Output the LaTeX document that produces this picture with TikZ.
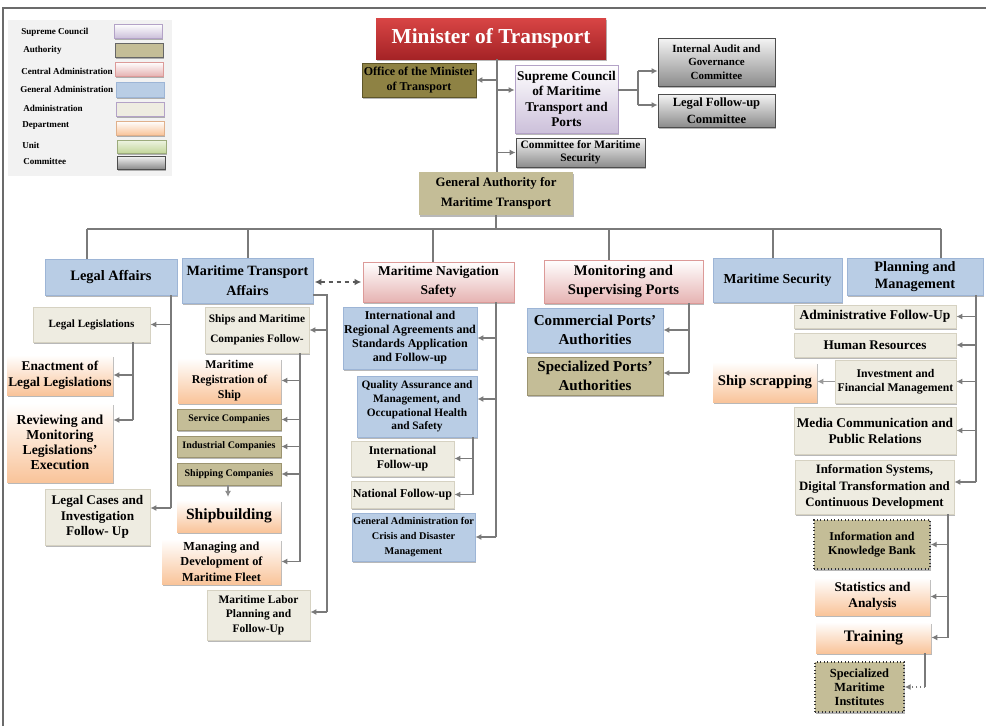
\documentclass[tikz,border=0pt]{standalone}
\usepackage{fontspec}
\setmainfont{Liberation Serif}
\usetikzlibrary{arrows.meta,shadows}
\definecolor{cBlue}{HTML}{B9CDE5}
\definecolor{cBlueD}{HTML}{9DB5D6}
\definecolor{cKhaki}{HTML}{C4BD97}
\definecolor{cKhakiD}{HTML}{9C9470}
\definecolor{cCream}{HTML}{EEECE1}
\definecolor{cCreamD}{HTML}{D6D2C2}
\definecolor{cPeach}{HTML}{F9C49A}
\definecolor{cPink}{HTML}{E6B3B2}
\definecolor{cPinkD}{HTML}{DC9A98}
\definecolor{cLav}{HTML}{CCC0DA}
\definecolor{cLavD}{HTML}{B3A2C7}
\definecolor{cGrayT}{HTML}{F4F4F4}
\definecolor{cGrayB}{HTML}{8C8C8C}
\definecolor{cGrayD}{HTML}{4D4D4D}
\definecolor{cRedT}{HTML}{D84545}
\definecolor{cRedB}{HTML}{A52326}
\definecolor{cOlive}{HTML}{8E8244}
\definecolor{cOliveD}{HTML}{5E5629}
\definecolor{cGreenT}{HTML}{EEF4E2}
\definecolor{cGreenB}{HTML}{C3D69B}
\definecolor{cLine}{HTML}{7A7A7A}
\definecolor{cFrame}{HTML}{6B6B6B}
\definecolor{cLegBg}{HTML}{F2F2F2}

\newcommand\fs[2]{\fontsize{#1}{#2}\selectfont\bfseries}
\newcommand\bx[7]{%
  \pgfmathsetmacro\bxw{(#5-#3)*0.75}%
  \pgfmathsetmacro\bxh{(#6-#4)*0.75}%
  \pgfmathsetmacro\bxx{(#3+#5)/2}%
  \pgfmathsetmacro\bxy{(#4+#6)/2}%
  \node[#2, minimum width=\bxw pt, minimum height=\bxh pt] (#1) at (\bxx,\bxy) {#7};}

\tikzset{
  bb/.style={rectangle, inner sep=0pt, align=center, line width=0.6pt,
    drop shadow={shadow xshift=0.7pt, shadow yshift=-1.5pt, fill=black, opacity=0.28}},
  sBlue/.style={bb, fill=cBlue, draw=cBlueD},
  sKhaki/.style={bb, fill=cKhaki, draw=cKhakiD},
  sCream/.style={bb, fill=cCream, draw=cCreamD},
  sPeach/.style={bb, top color=white, bottom color=cPeach, draw=none},
  sPink/.style={bb, top color=white, bottom color=cPink, draw=cPinkD},
  sLav/.style={bb, top color=white, bottom color=cLav, draw=cLavD},
  sGray/.style={bb, top color=cGrayT, bottom color=cGrayB, draw=cGrayD},
  sRed/.style={bb, top color=cRedT, bottom color=cRedB, draw=none, text=white},
  sOlive/.style={bb, fill=cOlive, draw=cOliveD},
  sGreen/.style={bb, top color=cGreenT, bottom color=cGreenB, draw=cGreenB!80!black},
  sDot/.style={draw=black!80, dotted, line width=1.1pt},
  ln/.style={draw=cLine, line width=0.9pt},
  ar/.style={ln, -{Latex[length=4.5pt,width=4.5pt]}},
  dar/.style={draw=black!65, line width=2pt, dashed, {Latex[length=5pt,width=5pt]}-{Latex[length=5pt,width=5pt]}, shorten <=1pt, shorten >=1pt},
  lgt/.style={font=\fs{6.8}{8}, anchor=west, inner sep=0pt},
}

\begin{document}
\begin{tikzpicture}[x=0.75pt,y=-0.75pt]
\useasboundingbox (0,0) rectangle (986,726);
\fill[white] (0,0) rectangle (986,726);
\draw[cFrame, line width=2pt] (3,726) -- (3,8) -- (986,8);

% legend
\fill[cLegBg] (8,20) rectangle (172,176);
\node[lgt] (lt1) at (21,32) {Supreme Council};
\node[lgt] (lt2) at (23,50) {Authority};
\node[lgt] (lt3) at (21,71) {Central Administration};
\node[lgt] (lt4) at (20,89) {General Administration};
\node[lgt] (lt5) at (23,108) {Administration};
\node[lgt] (lt6) at (22,125) {Department};
\node[lgt] (lt7) at (22,145) {Unit};
\node[lgt] (lt8) at (23,161) {Committee};
\bx{lg1}{sLav}{114}{24}{162}{38}{}
\bx{lg2}{sKhaki,draw=black!60}{115}{43}{163}{57}{}
\bx{lg3}{sPink}{115}{62}{163}{76}{}
\bx{lg4}{sBlue}{116}{82}{164}{97}{}
\bx{lg5}{sCream,draw=cLavD}{116}{102}{164}{116}{}
\bx{lg6}{sPeach,draw=cPeach!90!black}{116}{121}{164}{135}{}
\bx{lg7}{sGreen}{117}{140}{166}{153}{}
\bx{lg8}{sGray}{117}{156}{165}{169}{}

% top
\bx{min}{sRed,font=\fs{16}{18}}{376}{18}{606}{59}{Minister of Transport}
\bx{off}{sOlive,font=\fs{9}{11}}{362}{63}{476}{97}{Office of the Minister\\of Transport}
\bx{sc}{sLav,font=\fs{10}{11.5}}{515}{65}{618}{133}{Supreme Council\\of Maritime\\Transport and\\Ports}
\bx{cms}{sGray,font=\fs{8.5}{10}}{516}{138}{645}{167}{Committee for Maritime\\Security}
\bx{ia}{sGray,font=\fs{8.2}{10}}{658}{38}{775}{86}{Internal Audit and\\Governance\\Committee}
\bx{lf}{sGray,font=\fs{9.4}{12.5}}{658}{94}{775}{127}{Legal Follow-up\\Committee}
\bx{ga}{sKhaki,draw=none,font=\fs{9.6}{15}}{419}{172}{573}{215}{General Authority for\\Maritime Transport}

% level 1
\bx{la}{sBlue,font=\fs{10.8}{14}}{45}{259}{177}{295}{Legal Affairs}
\bx{mta}{sBlue,font=\fs{10.6}{15}}{182}{258}{313}{303}{Maritime Transport\\Affairs}
\bx{mns}{sPink,font=\fs{10.1}{14}}{363}{262}{514}{302}{Maritime Navigation\\Safety}
\bx{msp}{sPink,font=\fs{11}{14}}{544}{260}{703}{303}{Monitoring and\\Supervising Ports}
\bx{ms}{sBlue,font=\fs{10.3}{13}}{713}{258}{842}{302}{Maritime Security}
\bx{pm}{sBlue,font=\fs{10.7}{12.5}}{847}{258}{983}{295}{Planning and\\Management}

% legal affairs
\bx{ll}{sCream,font=\fs{8.3}{10}}{33}{307}{150}{342}{Legal Legislations}
\bx{en}{sPeach,font=\fs{10}{12}}{7}{355}{113}{395}{Enactment of\\Legal Legislations}
\bx{rv}{sPeach,font=\fs{10.3}{11.3}}{7}{403}{113}{482}{Reviewing and\\Monitoring\\Legislations’\\Execution}
\bx{lc}{sCream,font=\fs{9.9}{11.6}}{45}{489}{150}{545}{Legal Cases and\\Investigation\\Follow- Up}

% maritime transport affairs
\bx{smc}{sCream,font=\fs{8.5}{15}}{205}{307}{309}{353}{Ships and Maritime\\Companies Follow-}
\bx{mrs}{sPeach,font=\fs{8.9}{11}}{178}{358}{281}{403}{Maritime\\Registration of\\Ship}
\bx{svc}{sKhaki,font=\fs{7.5}{9}}{177}{409}{281}{430}{Service Companies}
\bx{ind}{sKhaki,font=\fs{7.5}{9}}{177}{436}{281}{457}{Industrial Companies}
\bx{shp}{sKhaki,font=\fs{7.5}{9}}{177}{463}{281}{485}{Shipping Companies}
\bx{sb}{sPeach,font=\fs{11.7}{14}}{177}{500}{281}{532}{Shipbuilding}
\bx{mdf}{sPeach,font=\fs{9.2}{11.5}}{162}{539}{281}{584}{Managing and\\Development of\\Maritime Fleet}
\bx{mlp}{sCream,font=\fs{8.6}{11}}{207}{590}{310}{640}{Maritime Labor\\Planning and\\Follow-Up}

% navigation safety
\bx{ira}{sBlue,font=\fs{9}{10.5}}{343}{307}{477}{369}{International and\\Regional Agreements and\\Standards Application\\and Follow-up}
\bx{qa}{sBlue,font=\fs{8.5}{10.3}}{357}{376}{477}{437}{Quality Assurance and\\Management, and\\Occupational Health\\and Safety}
\bx{ifu}{sCream,font=\fs{8.9}{11}}{351}{441}{454}{476}{International\\Follow-up}
\bx{nfu}{sCream,font=\fs{9}{11}}{351}{481}{454}{508}{National Follow-up}
\bx{gac}{sBlue,font=\fs{7.7}{11}}{352}{513}{475}{561}{General Administration for\\Crisis and Disaster\\Management}

% ports
\bx{cpa}{sBlue,font=\fs{11.3}{14}}{527}{308}{663}{352}{Commercial Ports’\\Authorities}
\bx{spa}{sKhaki,font=\fs{11.3}{14}}{527}{357}{663}{395}{Specialized Ports’\\Authorities}

% planning
\bx{afu}{sCream,font=\fs{10.1}{12}}{794}{305}{956}{328}{Administrative Follow-Up}
\bx{hr}{sCream,font=\fs{9.9}{12}}{794}{333}{956}{357}{Human Resources}
\bx{ifm}{sCream,font=\fs{8.8}{10.5}}{835}{360}{956}{403}{Investment and\\Financial Management}
\bx{scr}{sPeach,font=\fs{11}{13}}{713}{362}{817}{402}{Ship scrapping}
\bx{mcp}{sCream,font=\fs{10}{12}}{794}{407}{956}{454}{Media Communication and\\Public Relations}
\bx{isd}{sCream,font=\fs{9.6}{12.5}}{795}{460}{954}{514}{Information Systems,\\Digital Transformation and\\Continuous Development}
\bx{ikb}{sKhaki,sDot,font=\fs{9}{10.5}}{814}{520}{930}{569}{Information and\\Knowledge Bank}
\bx{sta}{sPeach,font=\fs{10}{12}}{815}{578}{930}{615}{Statistics and\\Analysis}
\bx{trn}{sPeach,font=\fs{12}{14}}{816}{622}{931}{653}{Training}
\bx{smi}{sKhaki,sDot,font=\fs{9.3}{10.5}}{815}{662}{904}{712}{Specialized\\Maritime\\Institutes}

% ---- connectors ----
\coordinate (tT) at (497,59);
\coordinate (tB) at (497,172);
\coordinate (aSc) at (497,90);
\draw[ln] (tT) -- (tB);
\draw[ar] (tT |- off.east) -- (off.east);
\draw[ar] (aSc) -- (aSc -| sc.west);
\draw[ar] (tT |- cms.west) -- (cms.west);
\coordinate (scJ) at (638,90);
\coordinate (scJ1) at (638,71);
\coordinate (scJ2) at (638,105);
\draw[ln] (aSc -| sc.east) -- (scJ);
\draw[ln] (scJ1) -- (scJ2);
\draw[ar] (scJ1) -- (scJ1 -| ia.west);
\draw[ar] (scJ2) -- (scJ2 -| lf.west);

\coordinate (bus) at (496,229);
\coordinate (d1) at (87,229);
\coordinate (d2) at (248,229);
\coordinate (d3) at (433,229);
\coordinate (d4) at (609,229);
\coordinate (d5) at (773,229);
\coordinate (d6) at (941,229);
\draw[ln] (ga.south) -- (ga.south |- bus);
\draw[ln] (d1) -- (d6);
\draw[ln] (d1) -- (d1 |- la.north);
\draw[ln] (d2) -- (d2 |- mta.north);
\draw[ln] (d3) -- (d3 |- mns.north);
\draw[ln] (d4) -- (d4 |- msp.north);
\draw[ln] (d5) -- (d5 |- ms.north);
\draw[ln] (d6) -- (d6 |- pm.north);

\coordinate (dsh) at (338,282);
\draw[dar] (dsh -| mta.east) -- (dsh -| mns.west);

% legal affairs
\coordinate (laS) at (171,295);
\coordinate (laE) at (171,508);
\draw[ln] (laS) -- (laE);
\draw[ar] (laS |- ll.east) -- (ll.east);
\draw[ar] (laE) -- (laE -| lc.east);
\coordinate (llS) at (133,342);
\coordinate (llE) at (133,420);
\draw[ln] (llS) -- (llE);
\draw[ar] (llS |- en.east) -- (en.east);
\draw[ar] (llE) -- (llE -| rv.east);

% maritime transport affairs
\coordinate (mtaA) at (313,295);
\coordinate (mtaB) at (327,295);
\coordinate (mtaE) at (327,612);
\draw[ln] (mtaA) -- (mtaB) -- (mtaE);
\draw[ar] (mtaB |- smc.east) -- (smc.east);
\draw[ar] (mtaE) -- (mtaE -| mlp.east);
\coordinate (smS) at (300,353);
\draw[ln] (smS) -- (smS |- mdf.east);
\draw[ar] (smS |- mrs.east) -- (mrs.east);
\draw[ar] (smS |- svc.east) -- (svc.east);
\draw[ar] (smS |- ind.east) -- (ind.east);
\draw[ar] (smS |- shp.east) -- (shp.east);
\draw[ar] (smS |- mdf.east) -- (mdf.east);
\coordinate (sbA) at (228,485);
\draw[ar, draw=black!45] (sbA) -- ([yshift=2pt]sbA |- sb.north);

% navigation
\coordinate (mnS) at (496,302);
\draw[ln] (mnS) -- (mnS |- gac.east);
\draw[ar] (mnS |- ira.east) -- (ira.east);
\coordinate (aQa) at (496,399);
\draw[ar] (aQa) -- (aQa -| qa.east);
\draw[ar] (mnS |- gac.east) -- (gac.east);
\coordinate (qaS) at (473,437);
\draw[ln] (qaS) -- (qaS |- nfu.east);
\draw[ar] (qaS |- ifu.east) -- (ifu.east);
\draw[ar] (qaS |- nfu.east) -- (nfu.east);

% ports
\coordinate (mpS) at (689,303);
\coordinate (mpE) at (689,373);
\draw[ln] (mpS) -- (mpE);
\draw[ar] (mpS |- cpa.east) -- (cpa.east);
\draw[ar] (mpE) -- (mpE -| spa.east);

% planning
\coordinate (pmS) at (976,295);
\coordinate (pmE) at (976,482);
\draw[ln] (pmS) -- (pmE);
\draw[ar] (pmS |- afu.east) -- (afu.east);
\draw[ar] (pmS |- hr.east) -- (hr.east);
\draw[ar] (pmS |- ifm.east) -- (ifm.east);
\draw[ar] (pmS |- mcp.east) -- (mcp.east);
\draw[ar] (pmE) -- (pmE -| isd.east);
\draw[ar, draw=black!40] (ifm.west) -- (ifm.west -| scr.east);
\coordinate (isS) at (948,514);
\draw[ln] (isS) -- (isS |- trn.east);
\draw[ar] (isS |- ikb.east) -- (ikb.east);
\draw[ar] (isS |- sta.east) -- (sta.east);
\draw[ar] (isS |- trn.east) -- (trn.east);
\coordinate (trS) at (925,653);
\coordinate (trE) at (925,687);
\draw[ln] (trS) -- (trE);
\draw[ar, dotted, line width=1.4pt] (trE) -- (trE -| smi.east);
\end{tikzpicture}
\end{document}
